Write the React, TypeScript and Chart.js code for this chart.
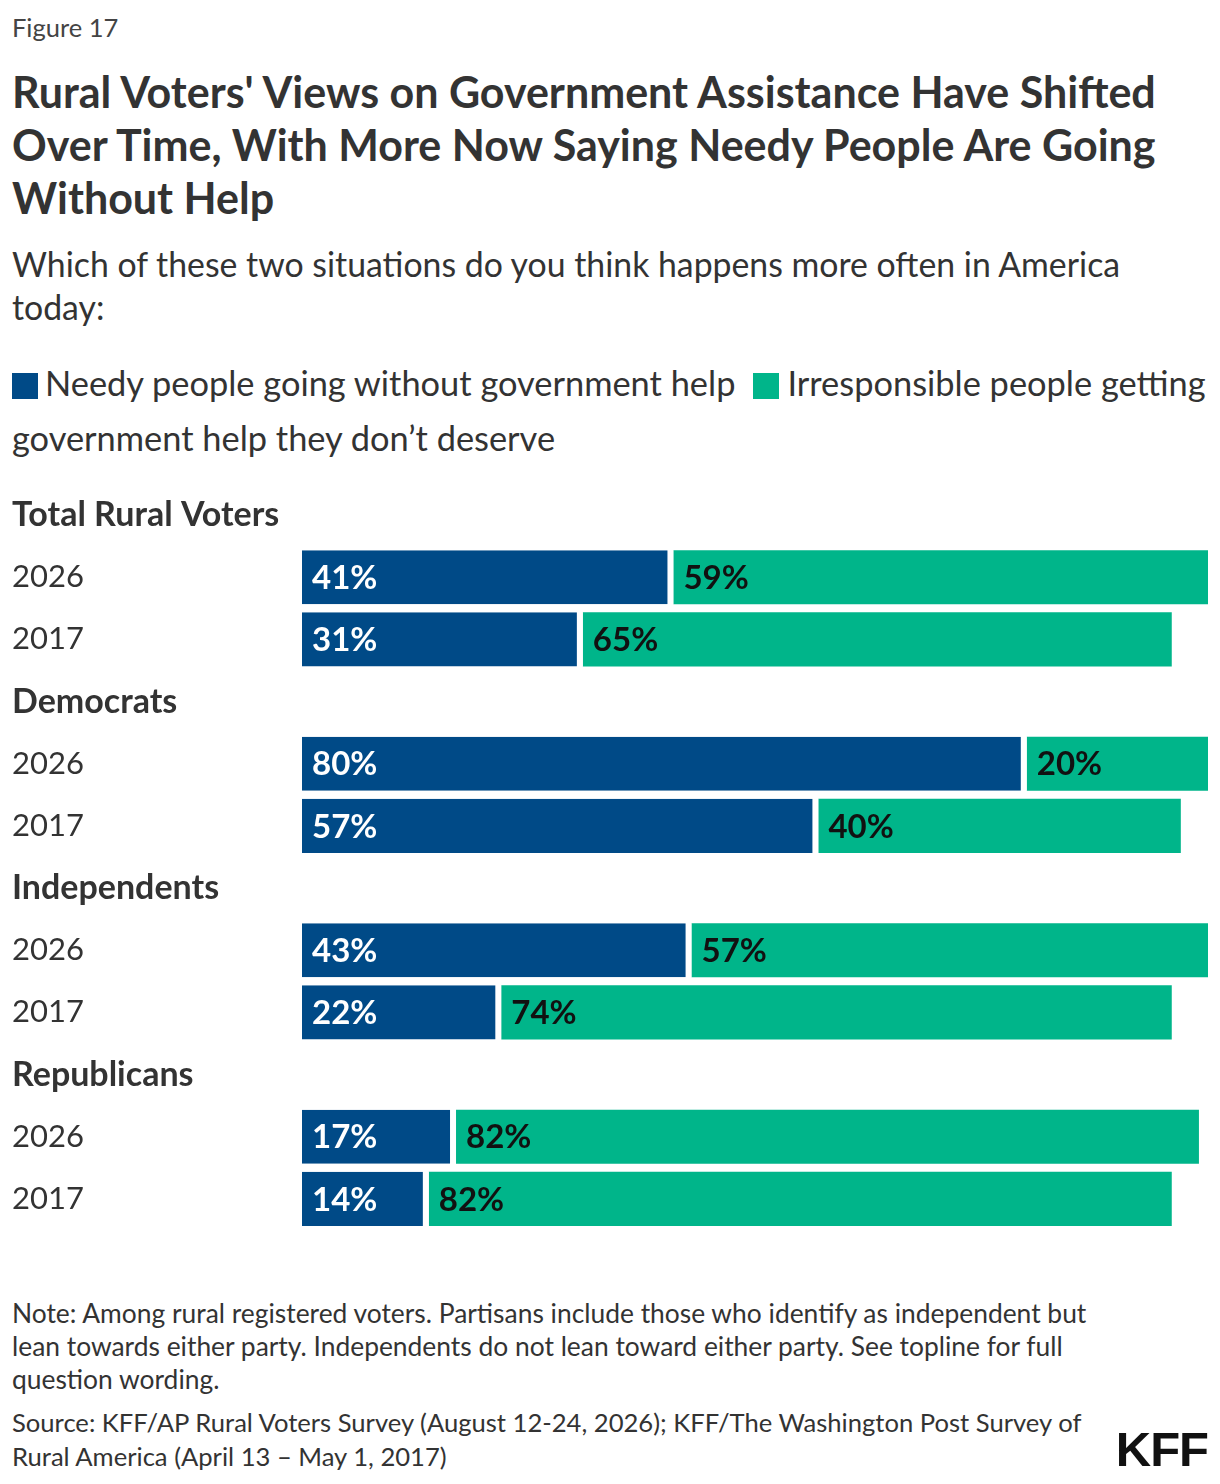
import React, { useEffect, useRef } from "react";
import { Chart, registerables } from "chart.js";

Chart.register(...registerables);

const FONT = "Lato, 'Noto Sans', sans-serif";
const TEXT = "#333333";
const BLUE = "#004A87";
const GREEN = "#00B58A";

const categories = [
  "Total Rural Voters", "2026", "2017",
  "Democrats", "2026", "2017",
  "Independents", "2026", "2017",
  "Republicans", "2026", "2017",
];
const headerRows = [true, false, false, true, false, false, true, false, false, true, false, false];
const needyValues = [null, 41, 31, null, 80, 57, null, 43, 22, null, 17, 14];
const irresponsibleValues = [null, 59, 65, null, 20, 40, null, 57, 74, null, 82, 82];
const seriesNames = [
  "Needy people going without government help",
  "Irresponsible people getting government help they don’t deserve",
];

const labelPlugin = {
  id: "barLabels",
  afterDatasetsDraw(chart: any) {
    const ctx = chart.ctx;
    ctx.save();
    ctx.font = `bold 33px ${FONT}`;
    ctx.textBaseline = "middle";
    ctx.textAlign = "left";
    chart.data.datasets.forEach((ds: any, di: number) => {
      const meta = chart.getDatasetMeta(di);
      meta.data.forEach((el: any, i: number) => {
        const v = ds.data[i];
        if (v == null) return;
        const p = el.getProps(["x", "y", "base"], true);
        const start = Math.min(p.x, p.base);
        ctx.fillStyle = di === 0 ? "#ffffff" : "#111111";
        ctx.fillText(`${v}%`, start + 10, p.y + 1);
      });
    });
    ctx.restore();
  },
};

function BarChart() {
  const ref = useRef<HTMLCanvasElement | null>(null);
  useEffect(() => {
    if (!ref.current) return;
    const chart = new Chart(ref.current, {
      type: "bar",
      data: {
        labels: categories,
        datasets: [
          {
            label: seriesNames[0],
            data: needyValues as any,
            backgroundColor: BLUE,
            borderColor: "#ffffff",
            borderWidth: { top: 0, bottom: 0, left: 0, right: 6 },
            borderSkipped: false,
            barPercentage: 54 / 62,
            categoryPercentage: 1,
          },
          {
            label: seriesNames[1],
            data: irresponsibleValues as any,
            backgroundColor: GREEN,
            borderWidth: 0,
            barPercentage: 54 / 62,
            categoryPercentage: 1,
          },
        ],
      },
      options: {
        indexAxis: "y",
        animation: false,
        responsive: false,
        maintainAspectRatio: false,
        layout: { padding: { top: 8, bottom: 8, left: 0, right: 0 } },
        plugins: {
          legend: { display: false },
          tooltip: { enabled: false },
          title: { display: false },
        },
        scales: {
          x: {
            stacked: true,
            min: 0,
            max: 100,
            display: false,
          },
          y: {
            stacked: true,
            grid: { display: false },
            border: { display: false },
            afterFit: (scale: any) => {
              scale.width = 290;
              scale.paddingTop = 0;
              scale.paddingBottom = 0;
            },
            ticks: {
              crossAlign: "far",
              color: TEXT,
              padding: 0,
              autoSkip: false,
              font: (ctx: any) => {
                const h = headerRows[ctx.index];
                return {
                  family: FONT,
                  size: h ? 34 : 31,
                  weight: h ? "bold" : "normal",
                };
              },
            },
          },
        },
      },
      plugins: [labelPlugin],
    });
    return () => chart.destroy();
  }, []);
  return (
    <canvas
      ref={ref}
      width={1196}
      height={762}
      style={{ position: "absolute", left: 4, top: 468, width: 1196, height: 762 }}
    />
  );
}

const abs = (top: number, extra: any = {}) => ({
  position: "absolute" as const,
  left: 4,
  top,
  whiteSpace: "nowrap" as const,
  fontFamily: FONT,
  color: TEXT,
  margin: 0,
  ...extra,
});

export default function App() {
  return (
    <div style={{ position: "relative", width: 1204, height: 1468, overflow: "hidden", background: "#fff" }}>
      <div style={abs(4, { fontSize: 25.5, lineHeight: "30px", color: "#444" })}>Figure 17</div>
      <div style={abs(56.5, { fontSize: 43, lineHeight: "53px", fontWeight: 700 })}>
        Rural Voters' Views on Government Assistance Have Shifted
        <br />
        Over Time, With More Now Saying Needy People Are Going
        <br />
        Without Help
      </div>
      <div style={abs(234.5, { fontSize: 33.8, lineHeight: "43px" })}>
        Which of these two situations do you think happens more often in America
        <br />
        today:
      </div>
      <div style={abs(346.5, { fontSize: 34.4, lineHeight: "55px" })}>
        <span style={{ display: "inline-block", width: 26, height: 26, background: BLUE, verticalAlign: "-3px", marginRight: 7 }} />
        {seriesNames[0]}
        <span style={{ display: "inline-block", width: 26, height: 26, background: GREEN, verticalAlign: "-3px", marginLeft: 18, marginRight: 8 }} />
        Irresponsible people getting
        <br />
        government help they don’t deserve
      </div>
      <BarChart />
      <div style={abs(1288.5, { fontSize: 26.4, lineHeight: "33px" })}>
        Note: Among rural registered voters. Partisans include those who identify as independent but
        <br />
        lean towards either party. Independents do not lean toward either party. See topline for full
        <br />
        question wording.
      </div>
      <div style={abs(1397, { fontSize: 25.6, lineHeight: "34px" })}>
        Source: KFF/AP Rural Voters Survey (August 12-24, 2026); KFF/The Washington Post Survey of
        <br />
        Rural America (April 13 – May 1, 2017)
      </div>
      <div
        style={{
          position: "absolute",
          right: 4,
          top: 1417,
          fontFamily: "'Liberation Sans', Arial, sans-serif",
          fontWeight: 900,
          fontSize: 49,
          lineHeight: "49px",
          color: "#111",
          letterSpacing: "-1px",
        }}
      >
        KFF
      </div>
    </div>
  );
}
